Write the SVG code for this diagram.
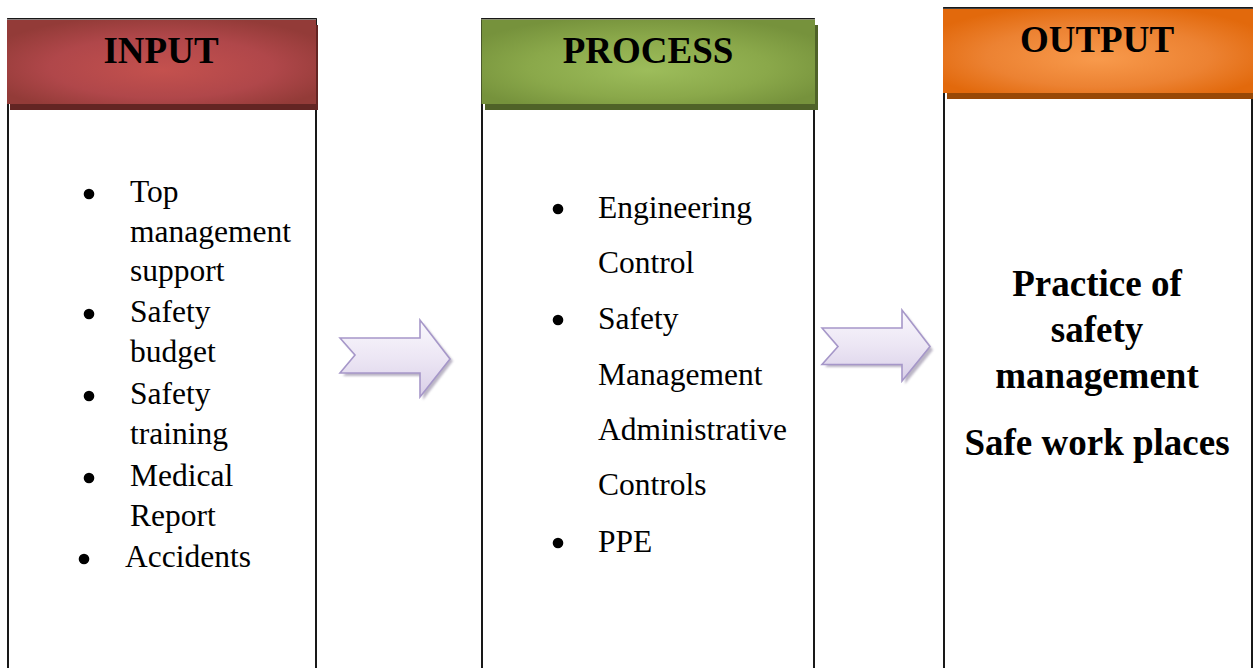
<svg xmlns="http://www.w3.org/2000/svg" width="1253" height="668" viewBox="0 0 1253 668">
<style>
.box{fill:none;stroke:#000;stroke-width:1.8}
.hd{font-family:"Liberation Serif","Times New Roman",serif;font-weight:bold;font-size:37px;text-anchor:middle;fill:#000}
.tx{font-family:"Liberation Serif","Times New Roman",serif;font-size:31.5px;fill:#000}
.out{font-family:"Liberation Serif","Times New Roman",serif;font-weight:bold;font-size:37px;text-anchor:middle;fill:#000}
.arr{stroke:#a697c9;stroke-width:1.6;fill:url(#ga);stroke-linejoin:miter}
.ash{fill:#a49cb2;opacity:0.75}
</style>
<defs>
<radialGradient id="gr" cx="0.5" cy="0.55" r="0.6" fx="0.5" fy="0.6">
<stop offset="0" stop-color="#c4514e"/>
<stop offset="0.6" stop-color="#b0474a"/>
<stop offset="1" stop-color="#933b38"/>
</radialGradient>
<radialGradient id="gg" cx="0.5" cy="0.55" r="0.6" fx="0.5" fy="0.6">
<stop offset="0" stop-color="#9dbd5b"/>
<stop offset="0.6" stop-color="#8aa84a"/>
<stop offset="1" stop-color="#76923c"/>
</radialGradient>
<radialGradient id="go" cx="0.5" cy="0.55" r="0.6" fx="0.5" fy="0.6">
<stop offset="0" stop-color="#f89a4c"/>
<stop offset="0.6" stop-color="#ec8232"/>
<stop offset="1" stop-color="#e2690c"/>
</radialGradient>
<linearGradient id="ga" x1="0" y1="0" x2="0" y2="1">
<stop offset="0" stop-color="#faf8fd"/>
<stop offset="0.5" stop-color="#ece6f4"/>
<stop offset="1" stop-color="#d9cfe8"/>
</linearGradient>
<filter id="bl" x="-10%" y="-10%" width="120%" height="120%"><feGaussianBlur stdDeviation="1"/></filter>
</defs>

<g id="input">
<rect class="box" x="8" y="19" width="308" height="660"/>
<rect x="10" y="25" width="308" height="85" fill="#632523"/>
<rect x="7" y="19" width="309" height="85" fill="url(#gr)"/>
<line x1="7" y1="19.5" x2="316" y2="19.5" stroke="#8a8080" stroke-width="1"/>
<text class="hd" x="161" y="63">INPUT</text>
<circle cx="89" cy="194" r="5.3"/>
<text class="tx" x="130" y="202">Top</text>
<text class="tx" x="130" y="242">management</text>
<text class="tx" x="130" y="281">support</text>
<circle cx="89" cy="314" r="5.3"/>
<text class="tx" x="130" y="322">Safety</text>
<text class="tx" x="130" y="362">budget</text>
<circle cx="89" cy="396" r="5.3"/>
<text class="tx" x="130" y="404">Safety</text>
<text class="tx" x="130" y="444">training</text>
<circle cx="89" cy="478" r="5.3"/>
<text class="tx" x="130" y="486">Medical</text>
<text class="tx" x="130" y="526">Report</text>
<circle cx="84" cy="559" r="5.3"/>
<text class="tx" x="125" y="567">Accidents</text>
</g>

<g id="process">
<rect class="box" x="482" y="19" width="332" height="660"/>
<rect x="485" y="25" width="333" height="85" fill="#4f6228"/>
<rect x="481.5" y="19" width="333.5" height="85" fill="url(#gg)"/>
<line x1="481.5" y1="19.5" x2="815" y2="19.5" stroke="#8a9070" stroke-width="1"/>
<text class="hd" x="648" y="63">PROCESS</text>
<circle cx="558" cy="209" r="5.3"/>
<text class="tx" x="598" y="218">Engineering</text>
<text class="tx" x="598" y="273">Control</text>
<circle cx="558" cy="320" r="5.3"/>
<text class="tx" x="598" y="329">Safety</text>
<text class="tx" x="598" y="385">Management</text>
<text class="tx" x="598" y="440">Administrative</text>
<text class="tx" x="598" y="495">Controls</text>
<circle cx="558" cy="543" r="5.3"/>
<text class="tx" x="598" y="552">PPE</text>
</g>

<g id="output">
<rect class="box" x="944" y="8" width="308" height="670"/>
<rect x="947" y="14" width="310" height="85" fill="#984806"/>
<rect x="943" y="8" width="310" height="85" fill="url(#go)"/>
<line x1="943" y1="8.5" x2="1253" y2="8.5" stroke="#404040" stroke-width="1.2"/>
<text class="hd" x="1097" y="52">OUTPUT</text>
<text class="out" x="1097" y="296">Practice of</text>
<text class="out" x="1097" y="342">safety</text>
<text class="out" x="1097" y="388">management</text>
<text class="out" x="1097" y="455">Safe work places</text>
</g>

<g id="connectors">
<g id="arrow1">
<polygon class="ash" filter="url(#bl)" points="343,341 358,358 343,376 423,376 423,400 453,361 423,323 423,341"/>
<polygon class="arr" points="340,338 355,355 340,373 420,373 420,397 450,359 420,320 420,338"/>
</g>
<g id="arrow2">
<polygon class="ash" filter="url(#bl)" points="825,331 841,349 825,367 905,367 905,384 933,350 905,313 905,331"/>
<polygon class="arr" points="822,328 838,346.5 822,364.5 902,364.5 902,381 930,346.5 902,310 902,328"/>
</g>
</g>
</svg>
